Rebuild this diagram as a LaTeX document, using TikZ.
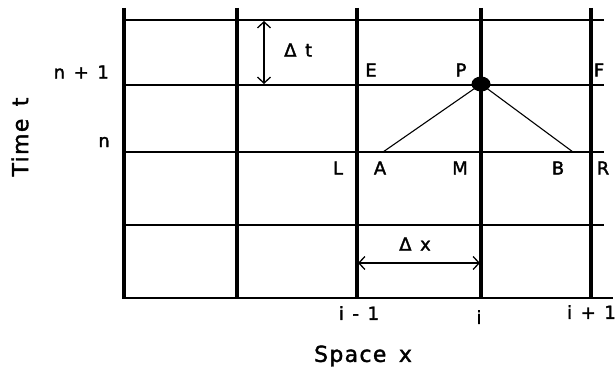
\documentclass[tikz,border=0pt]{standalone}
\usepackage{fontspec}
\setmainfont[WordSpace=1.5,FakeBold=1.8]{DejaVu Sans}
\newfontfamily\widesans[LetterSpace=6,WordSpace=1.5,FakeBold=1.6]{DejaVu Sans}
\usetikzlibrary{arrows.meta}
\begin{document}
\begin{tikzpicture}[x=1pt,y=-1pt,
  vline/.style={line width=3.6pt},
  hline/.style={line width=2.7pt},
  thin/.style={line width=1.1pt},
  dim/.style={line width=1.3pt,{Straight Barb[length=6pt,width=13pt]}-{Straight Barb[length=6pt,width=13pt]}},
  lbl/.style={inner sep=0pt,font=\fontsize{18}{20}\selectfont},
  axis/.style={inner sep=0pt,font=\widesans\fontsize{22}{24}\selectfont}]
\useasboundingbox (0,0) rectangle (616,369);
% horizontal grid lines
\draw[hline] (122,20) -- (604,20);
\draw[hline] (122,85) -- (604,85);
\draw[hline] (122,152) -- (604,152);
\draw[hline] (122,225) -- (604,225);
\draw[hline] (122,298) -- (613,298);
% vertical grid lines
\foreach \x in {124,237,357,481,591}
  \draw[vline] (\x,8) -- (\x,298);
% named points
\coordinate (P) at (481,84);
\coordinate (A) at (383,152);
\coordinate (B) at (573,152);
\coordinate (Ts) at (264,21);
\coordinate (Te) at (264,84);
\coordinate (Xs) at (358,263);
\coordinate (Xe) at (480,263);
% characteristic lines
\draw[thin] (A) -- (P) -- (B);
\fill (P) ellipse (9.5pt and 7.5pt);
% dimension arrows
\draw[dim] (Ts) -- (Te);
\draw[dim] (Xs) -- (Xe);
\node[lbl,anchor=west] (dt) at (284,50) {Δ t};
\node[lbl] (dx) at (415,244) {Δ x};
% labels
\node[lbl,anchor=east] (n1) at (109,72) {n + 1};
\node[lbl,anchor=east] (n0) at (110,142) {n};
\node[lbl] (E) at (371,70) {E};
\node[lbl] (Pl) at (461,70) {P};
\node[lbl] (F) at (599,70) {F};
\node[lbl] (L) at (338,168) {L};
\node[lbl] (Al) at (380,168) {A};
\node[lbl] (M) at (460,168) {M};
\node[lbl] (Bl) at (558,168) {B};
\node[lbl] (R) at (603,168) {R};
\node[lbl] (im) at (359,313) {i - 1};
\node[lbl] (i0) at (479,317) {i};
\node[lbl,anchor=east] (ip) at (616,312) {i + 1};
\node[axis] (sx) at (363,356) {Space x};
\node[axis,rotate=90] (tt) at (20,137) {Time t};
\end{tikzpicture}
\end{document}
